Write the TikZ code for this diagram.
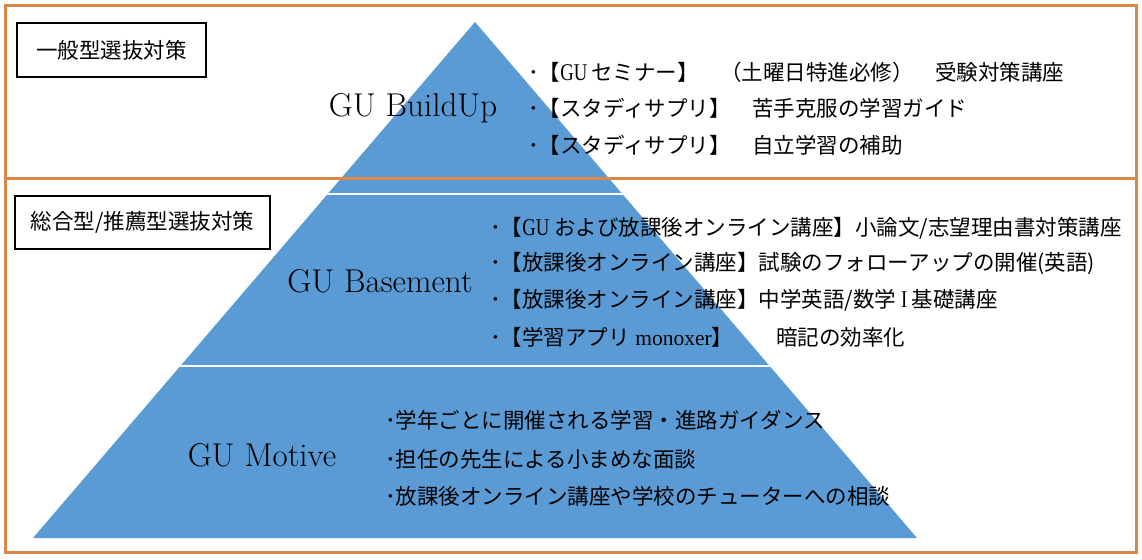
\documentclass[tikz,border=0pt]{standalone}
\usepackage{fontspec}
\newfontfamily\jp{Noto Sans CJK JP}
\newfontfamily\latc[FakeStretch=0.78]{Liberation Serif}
\newfontfamily\latn{Liberation Serif}
\newcommand{\gux}{{\latc\fontsize{24}{26}\selectfont GU}}
\definecolor{frameor}{RGB}{222,133,72}
\definecolor{pyblue}{RGB}{91,155,213}
\begin{document}
\begin{tikzpicture}[x=1pt,y=-1pt,
  jptext/.style={font=\jp\fontsize{21.5}{26}\selectfont, anchor=west, inner sep=0pt, text=black},
  gulabel/.style={font=\fontsize{33}{38}\selectfont, inner sep=0pt, text=black},
  labelbox/.style={draw=black, line width=2pt, fill=white, font=\jp\fontsize{21.5}{26}\selectfont, inner sep=0pt},
  frameline/.style={draw=frameor, line width=3pt},
  sepline/.style={draw=white, line width=2.5pt}]
\useasboundingbox (0,0) rectangle (1142,559);
% pyramid
\coordinate (apex) at (475,22);
\coordinate (bl) at (33,538);
\coordinate (br) at (917,538);
\begin{scope}
  \clip (apex) -- (br) -- (bl) -- cycle;
  \fill[pyblue] (0,0) rectangle (1142,559);
  \coordinate (s1l) at (0,194);
  \coordinate (s1r) at (1142,194);
  \coordinate (s2l) at (0,366);
  \coordinate (s2r) at (1142,366);
  \draw[sepline] (s1l) -- (s1r);
  \draw[sepline] (s2l) -- (s2r);
\end{scope}
% orange frames
\draw[frameline] (5.5,6) rectangle (1136,178);
\draw[frameline] (5.5,178) rectangle (1136,552);
% category boxes
\node[labelbox, minimum width=189pt, minimum height=54pt] (box1) at (111.5,50) {一般型選抜対策};
\node[labelbox, minimum width=255pt, minimum height=53pt] (box2) at (142.5,222.5) {総合型/推薦型選抜対策};
% tier labels
\node[gulabel] (t1) at (413,108) {GU BuildUp};
\node[gulabel] (t2) at (380,281) {GU Basement};
\node[gulabel] (t3) at (262,455) {GU Motive};
% top items
\node[jptext] (a1) at (528,72) {･【\gux\,セミナー】　（土曜日特進必修）　受験対策講座};
\node[jptext] (a2) at (528,108) {･【スタディサプリ】　苦手克服の学習ガイド};
\node[jptext] (a3) at (528,145) {･【スタディサプリ】　自立学習の補助};
% middle items
\node[jptext] (b1) at (490,228) {･【\gux\ および放課後オンライン講座】小論文/志望理由書対策講座};
\node[jptext] (b2) at (490,264) {･【放課後オンライン講座】試験のフォローアップの開催(英語)};
\node[jptext] (b3) at (490,300) {･【放課後オンライン講座】中学英語/数学{\latc\fontsize{24}{26}\selectfont\ I\ }基礎講座};
\node[jptext] (b4) at (490,337) {･【学習アプリ{\latn\ monoxer}】　　暗記の効率化};
% bottom items
\node[jptext] (c1) at (385,420) {･学年ごとに開催される学習・進路ガイダンス};
\node[jptext] (c2) at (385,459) {･担任の先生による小まめな面談};
\node[jptext] (c3) at (385,496) {･放課後オンライン講座や学校のチューターへの相談};
\end{tikzpicture}
\end{document}
